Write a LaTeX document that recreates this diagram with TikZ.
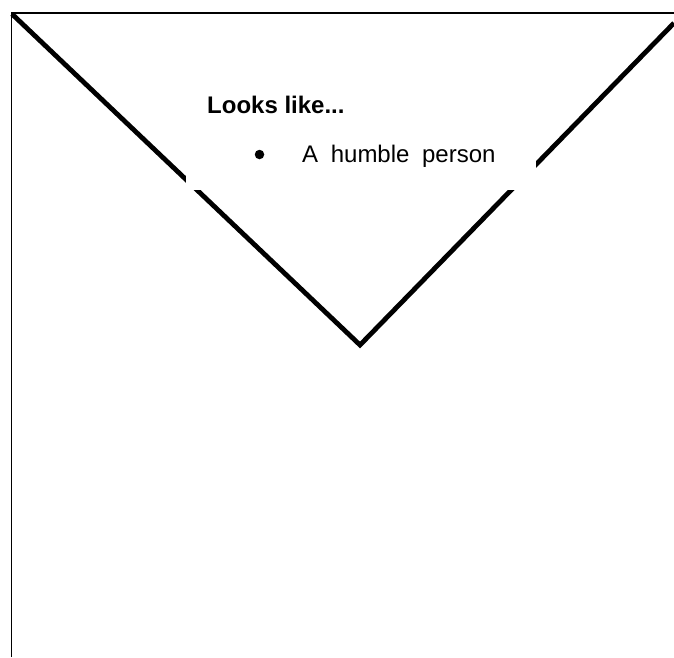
\documentclass[tikz,border=0pt]{standalone}
\usepackage{fontspec}
\setmainfont{Liberation Sans}
\usepackage{xcolor}
\usepackage{tikz}
\definecolor{sketchInk}{HTML}{000000}
\definecolor{sketchPaper}{HTML}{FFFFFF}
\newcommand{\widewords}{\spaceskip=12.6pt\relax}
\usetikzlibrary{positioning,calc}

\begin{document}
\begin{tikzpicture}[
  x=1pt, y=-1pt,
  frameline/.style={draw=sketchInk, line width=1.6pt},
  vline/.style={draw=sketchInk, line width=4.8pt, line cap=butt, line join=miter},
  maskbox/.style={fill=sketchPaper, draw=none, inner sep=0pt,
    minimum width=350pt, minimum height=150pt},
  headtext/.style={font={\fontsize{24}{28}\selectfont\bfseries}, text=sketchInk, inner sep=0pt},
  itemtext/.style={font={\fontsize{24}{28}\selectfont\widewords}, text=sketchInk, inner sep=0pt},
  dotmark/.style={circle, fill=sketchInk, inner sep=0pt, minimum size=9.5pt}
]
\useasboundingbox (0,0) rectangle (674,657);

% Frame
\coordinate (corner) at (11.5,13);
\coordinate (bottomleft) at (11.5,657);
\coordinate (topright) at (674,13);
\draw[frameline] (bottomleft) -- (corner) -- (topright);

% V shape
\coordinate (topleft) at (12,14);
\coordinate (tip) at (360,345);
\coordinate (rightend) at (674,23);
\draw[vline] (topleft) -- (tip) -- (rightend);

% Text box over the lines
\node[maskbox, anchor=south west] (textbox) at (186,190) {};
\node[headtext, anchor=base west] (looks) at (207,113) {Looks like...};
\node[itemtext, anchor=base west] (humble) at (302,162) {A humble person};
\node[dotmark] (dot) at (259.5,154.5) {};

\end{tikzpicture}
\end{document}
